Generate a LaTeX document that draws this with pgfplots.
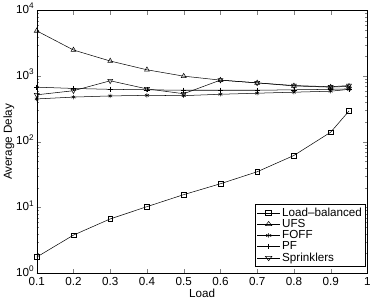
\documentclass[border=0pt]{standalone}
\usepackage{pgfplots}
\pgfplotsset{compat=1.18}
\usepackage{fontspec}
\setmainfont{Liberation Sans}
\begin{document}
\begin{tikzpicture}
\begin{axis}[
  scale only axis, width=326pt, height=259pt,
  ymode=log, xmin=0.1, xmax=1, ymin=1, ymax=10000,
  xtick={0.1,0.2,0.3,0.4,0.5,0.6,0.7,0.8,0.9,1},
  xticklabels={0.1,0.2,0.3,0.4,0.5,0.6,0.7,0.8,0.9,1},
  ytick={1,10,100,1000,10000},
  yticklabels={10\textsuperscript{0},10\textsuperscript{1},10\textsuperscript{2},10\textsuperscript{3},10\textsuperscript{4}},
  tick align=inside, tick pos=both,
  minor tick length=2pt, major tick length=4pt,
  tick label style={font=\fontsize{11.5}{12}\selectfont},
  label style={font=\fontsize{11.5}{12}\selectfont},
  xticklabel style={yshift=-1pt},
  yticklabel style={xshift=1pt, yshift=2pt},
  /pgf/number format/assume math mode=true,
  xlabel={Load}, ylabel={Average Delay},
  xlabel style={yshift=4pt}, ylabel style={yshift=-5pt},
  legend style={font=\fontsize{11.5}{12}\selectfont, draw=black, row sep=-2.5pt, inner sep=1.5pt,
    at={(0.995,0.025)}, anchor=south east},
  legend cell align=left,
  legend image post style={xscale=1.3},
  every axis plot/.append style={line width=0.5pt, mark size=2.2pt, black},
]
\addplot[mark=square, mark size=2.3pt] coordinates {(0.1,1.76)(0.2,3.8)(0.3,6.7)(0.4,10.3)(0.5,15.7)(0.6,23)(0.7,35)(0.8,62)(0.9,140)(0.95,295)};
\addlegendentry{Load--balanced}
\addplot[mark=triangle, mark size=2.8pt] coordinates {(0.1,4900)(0.2,2500)(0.3,1700)(0.4,1250)(0.5,1000)(0.6,870)(0.7,790)(0.8,710)(0.9,680)(0.95,700)};
\addlegendentry{UFS}
\addplot[mark=asterisk] coordinates {(0.1,450)(0.2,480)(0.3,500)(0.4,510)(0.5,505)(0.6,530)(0.7,550)(0.8,570)(0.9,590)(0.95,630)};
\addlegendentry{FOFF}
\addplot[mark=+, mark size=2.6pt] coordinates {(0.1,680)(0.2,650)(0.3,630)(0.4,620)(0.5,610)(0.6,610)(0.7,610)(0.8,620)(0.9,630)(0.95,640)};
\addlegendentry{PF}
\addplot[mark=triangle, mark size=2.8pt, mark options={rotate=180}] coordinates {(0.1,520)(0.2,600)(0.3,850)(0.4,640)(0.5,540)(0.6,870)(0.7,790)(0.8,720)(0.9,690)(0.95,720)};
\addlegendentry{Sprinklers}
\end{axis}
\end{tikzpicture}
\end{document}
